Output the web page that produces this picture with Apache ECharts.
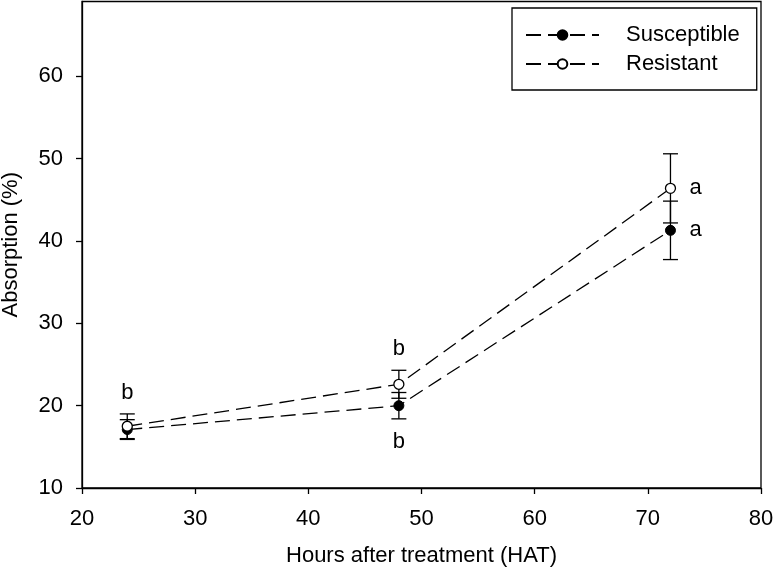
<!DOCTYPE html>
<html>
<head>
<meta charset="utf-8">
<script src="https://cdn.jsdelivr.net/npm/echarts@6/dist/echarts.min.js"></script>
<style>
  html, body { margin: 0; padding: 0; background: #fff; }
  #chart { width: 774px; height: 577px; }
</style>
</head>
<body>
<div id="chart"></div>
<script>
// ---- data ----
const hours = [24, 48, 72];
const susceptible = [17.1, 20.0, 41.3];
const susceptibleErr = [1.2, 1.6, 3.55];
const resistant = [17.5, 22.6, 46.4];
const resistantErr = [1.5, 1.7, 4.2];
const susceptibleLetters = ['', 'b', 'a'];
const resistantLetters = ['b', 'b', 'a'];
const xTickValues = [20, 30, 40, 50, 60, 70, 80];
const yTickValues = [10, 20, 30, 40, 50, 60];

// letter placement relative to the error bar (layout, not data)
const susceptibleLetterPlace = ['none', 'bottom', 'right'];
const resistantLetterPlace = ['top', 'top', 'right'];

const FONT = 'Liberation Sans, Arial, sans-serif';

function errorSeries(name, ys, errs, letters, places) {
  return {
    type: 'custom',
    name: name,
    z: 1,
    silent: true,
    data: hours.map((h, i) => [h, ys[i], errs[i]]),
    encode: { x: 0, y: 1 },
    renderItem: function (params, api) {
      const i = params.dataIndex;
      const x = api.value(0), y = api.value(1), e = api.value(2);
      const c = api.coord([x, y]);
      const t = api.coord([x, y + e]);
      const b = api.coord([x, y - e]);
      const hw = 7.5;
      const st = { stroke: '#000', lineWidth: 1.3 };
      const children = [
        { type: 'line', shape: { x1: c[0], y1: t[1], x2: c[0], y2: b[1] }, style: st },
        { type: 'line', shape: { x1: c[0] - hw, y1: t[1], x2: c[0] + hw, y2: t[1] }, style: st },
        { type: 'line', shape: { x1: c[0] - hw, y1: b[1], x2: c[0] + hw, y2: b[1] }, style: st }
      ];
      const p = places[i];
      if (letters[i] && p !== 'none') {
        let tx = c[0], ty = c[1], align = 'center';
        if (p === 'top') { ty = t[1] - 21; }
        else if (p === 'bottom') { ty = b[1] + 23; }
        else if (p === 'right') { tx = c[0] + 19; align = 'left'; }
        children.push({
          type: 'text',
          style: {
            text: letters[i], x: tx, y: ty, align: align, verticalAlign: 'middle',
            fill: '#000', fontSize: 22, fontFamily: FONT
          }
        });
      }
      return { type: 'group', children: children };
    }
  };
}

const chart = echarts.init(document.getElementById('chart'), null, { renderer: 'canvas' });
chart.setOption({
  animation: false,
  backgroundColor: '#fff',
  textStyle: { fontFamily: FONT },
  grid: {
    left: 82, right: 13, top: 1.5, bottom: 89,
    containLabel: false,
    outerBoundsMode: 'none',
    show: true, borderColor: '#000', borderWidth: 1.3, backgroundColor: 'transparent'
  },
  legend: {
    data: ['Susceptible', 'Resistant'],
    orient: 'vertical',
    left: 512, top: 8,
    padding: [15, 17, 14, 13],
    itemGap: 5,
    itemWidth: 73,
    itemHeight: 12,
    borderColor: '#000',
    borderWidth: 1.3,
    backgroundColor: '#fff',
    textStyle: { fontSize: 22, color: '#000', fontFamily: FONT, padding: [0, 0, 0, 22], lineHeight: 24 }
  },
  xAxis: {
    type: 'value', min: 20, max: 80, interval: 10,
    name: 'Hours after treatment (HAT)', nameLocation: 'middle', nameGap: 57,
    nameTextStyle: { fontSize: 22, color: '#000', fontFamily: FONT },
    axisLine: { show: true, lineStyle: { color: '#000', width: 1.3 } },
    axisTick: { show: true, inside: false, length: 6, lineStyle: { color: '#000', width: 1.3 } },
    axisLabel: { fontSize: 22, color: '#000', margin: 20, fontFamily: FONT },
    splitLine: { show: false }
  },
  yAxis: {
    type: 'value', min: 10, max: 69.1, interval: 10,
    name: 'Absorption (%)', nameLocation: 'middle', nameGap: 60, nameRotate: 90,
    nameTextStyle: { fontSize: 22, color: '#000', fontFamily: FONT },
    axisLine: { show: true, lineStyle: { color: '#000', width: 1.3 } },
    axisTick: { show: true, inside: false, length: 6, lineStyle: { color: '#000', width: 1.3 }, customValues: yTickValues },
    axisLabel: { fontSize: 22, color: '#000', margin: 19, fontFamily: FONT, customValues: yTickValues },
    splitLine: { show: false }
  },
  series: [
    errorSeries('errS', susceptible, susceptibleErr, susceptibleLetters, susceptibleLetterPlace),
    errorSeries('errR', resistant, resistantErr, resistantLetters, resistantLetterPlace),
    {
      type: 'line', name: 'Susceptible', z: 3,
      data: hours.map((h, i) => [h, susceptible[i]]),
      symbol: 'circle', symbolSize: 10, showAllSymbol: true,
      lineStyle: { color: '#000', width: 1.3, type: [15, 7] },
      itemStyle: { color: '#000', borderColor: '#000', borderWidth: 1 }
    },
    {
      type: 'line', name: 'Resistant', z: 3,
      data: hours.map((h, i) => [h, resistant[i]]),
      symbol: 'circle', symbolSize: 10, showAllSymbol: true,
      lineStyle: { color: '#000', width: 1.3, type: [15, 7] },
      itemStyle: { color: '#fff', borderColor: '#000', borderWidth: 1.3 }
    }
  ]
});
</script>
</body>
</html>
